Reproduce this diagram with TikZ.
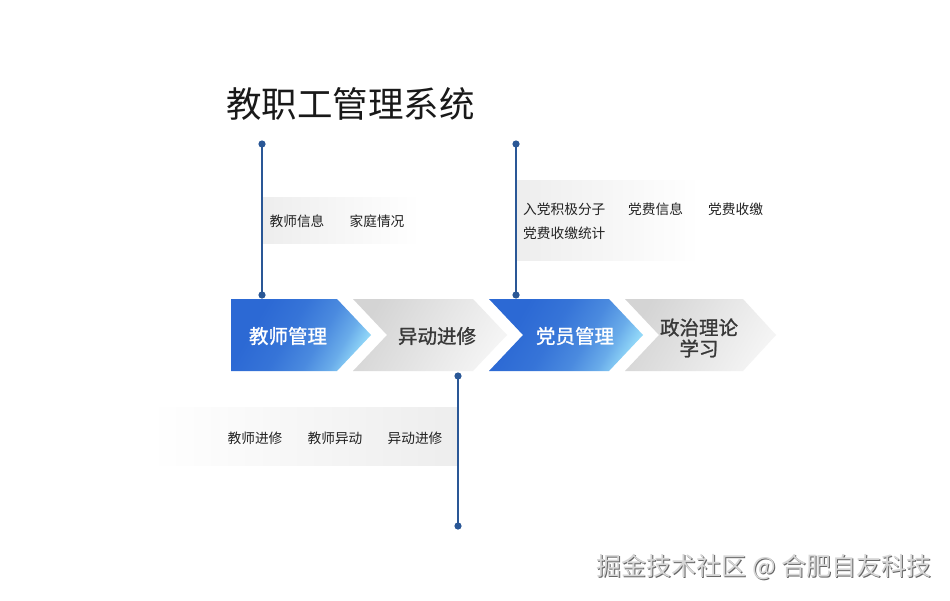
\documentclass[tikz,border=0pt]{standalone}
\usepackage{fontspec}
\setmainfont{Noto Sans CJK SC}
\newfontfamily\cjkb[FakeBold=1.2]{Noto Sans CJK SC}
\definecolor{bluedark}{HTML}{2C69D4}
\definecolor{bluelight}{HTML}{92D8F8}
\definecolor{graydark}{HTML}{D4D4D4}
\definecolor{graylight}{HTML}{F4F4F4}
\definecolor{linecol}{HTML}{2A5796}
\definecolor{txt}{HTML}{222222}
\pgfdeclarehorizontalshading{bluegrad}{100bp}{
  color(0bp)=(bluedark); color(30bp)=(bluedark); color(45bp)=(bluedark!90!bluelight);
  color(58bp)=(bluedark!70!bluelight); color(68bp)=(bluedark!40!bluelight); color(76bp)=(bluelight); color(100bp)=(bluelight)}
\begin{document}
\begin{tikzpicture}[x=1pt,y=-1pt,
  bluechev/.style={shading=bluegrad, shading angle=-30},
  graychev/.style={left color=graydark, right color=graylight, shading angle=60},
  chevlabel/.style={inner sep=0pt, font=\cjkb\fontsize{19.5}{23}\selectfont},
  itemtxt/.style={inner sep=0pt, text=txt, font=\fontsize{13.7}{16}\selectfont},
  stem/.style={draw=linecol, line width=2.2pt},
  dot/.style={fill=linecol},
]
\useasboundingbox (0,0) rectangle (950,600);
\fill[white] (0,0) rectangle (950,600);

% chevrons
\path[bluechev] (231,299) -- (337,299) -- (371,335) -- (337,371) -- (231,371) -- cycle;
\path[graychev] (353,299) -- (473,299) -- (507,335) -- (473,371) -- (353,371) -- (387,335) -- cycle;
\path[bluechev] (489,299) -- (609,299) -- (643,335) -- (609,371) -- (489,371) -- (523,335) -- cycle;
\path[graychev] (625,299) -- (743,299) -- (776,335) -- (743,371) -- (625,371) -- (659,335) -- cycle;

\node[chevlabel, text=white] (c1) at (288,336) {教师管理};
\node[chevlabel, text=txt!90] (c2) at (437,336) {异动进修};
\node[chevlabel, text=white] (c3) at (575,336) {党员管理};
\node[chevlabel, text=txt!90, align=center] (c4) at (699,338) {政治理论\\[-2pt]学习};

% panels
\path[left color=black!7, right color=white] (262,197) rectangle (420,243);
\path[left color=black!7, right color=white] (516,180) rectangle (700,260);
\path[left color=white, right color=black!7] (150,407) rectangle (458,465);

% title
\node[inner sep=0pt, anchor=west, text=black!90, font=\fontsize{35.5}{42}\selectfont] (title) at (226,104) {教职工管理系统};

% stems
\coordinate (s1t) at (262,144);
\coordinate (s1b) at (262,295);
\coordinate (s2t) at (516,144);
\coordinate (s2b) at (516,295);
\coordinate (s3t) at (458,376);
\coordinate (s3b) at (458,526);
\draw[stem] (s1t) -- (s1b);
\draw[stem] (s2t) -- (s2b);
\draw[stem] (s3t) -- (s3b);
\foreach \p in {s1t,s1b,s2t,s2b,s3t,s3b} \fill[dot] (\p) circle (3.6);

% items
\node[itemtxt] (i1) at (297,221) {教师信息};
\node[itemtxt] (i2) at (377,221) {家庭情况};
\node[itemtxt, anchor=west] (j1) at (523,209) {入党积极分子};
\node[itemtxt, anchor=west] (j2) at (628,209) {党费信息};
\node[itemtxt, anchor=west] (j3) at (708,209) {党费收缴};
\node[itemtxt, anchor=west] (j4) at (523,233) {党费收缴统计};
\node[itemtxt] (k1) at (255,438) {教师进修};
\node[itemtxt] (k2) at (335,438) {教师异动};
\node[itemtxt] (k3) at (415,438) {异动进修};

% watermark
\node[inner sep=0pt, anchor=east, text=black!60, font=\fontsize{25}{30}\selectfont] (wms) at (932.9,567.9) {掘金技术社区 @ 合肥自友科技};
\node[inner sep=0pt, anchor=east, text=black!16, font=\fontsize{25}{30}\selectfont] (wm) at (932,567) {掘金技术社区 @ 合肥自友科技};
\end{tikzpicture}
\end{document}
